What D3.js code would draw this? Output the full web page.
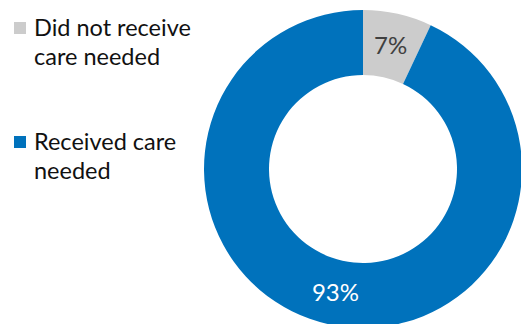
<!DOCTYPE html>
<html lang="en">
	<head>
		<meta charset="utf-8">
		<title>Care needed donut</title>
		<script type="text/javascript" src="https://cdn.jsdelivr.net/npm/d3@7"></script>
		<style type="text/css">
			body { margin: 0; background: #fff; }
			text { font-family: Lato, "Open Sans", sans-serif; }
		</style>
	</head>
	<body>
		<script type="text/javascript">
			// Data
			var categories = ["Did not receive care needed", "Received care needed"];
			var values = [7, 93];
			var colors = ["#cccccc", "#0072bc"];
			var labelColors = ["#404040", "#ffffff"];
			var legendLines = [["Did not receive", "care needed"], ["Received care", "needed"]];

			var w = 521;
			var h = 324;
			var cx = 363, cy = 169;
			var outerR = 159, innerR = 94;

			var svg = d3.select("body")
						.append("svg")
						.attr("width", w)
						.attr("height", h);

			var pie = d3.pie().sort(null).value(function(d) { return d; });
			var arc = d3.arc().innerRadius(innerR).outerRadius(outerR);

			var g = svg.append("g").attr("transform", "translate(" + cx + "," + cy + ")");

			var slices = pie(values);

			g.selectAll("path")
				.data(slices)
				.enter()
				.append("path")
				.attr("d", arc)
				.style("fill", function(d, i) { return colors[i]; });

			g.selectAll("text.lbl")
				.data(slices)
				.enter()
				.append("text")
				.attr("class", "lbl")
				.attr("x", function(d) { return arc.centroid(d)[0]; })
				.attr("y", function(d) { return arc.centroid(d)[1]; })
				.attr("text-anchor", "middle")
				.attr("dy", "0.36em")
				.style("font-size", "24px")
				.style("fill", function(d, i) { return labelColors[i]; })
				.text(function(d) { return d.data + "%"; });

			// Legend
			var legend = svg.selectAll("g.legend")
				.data(categories)
				.enter()
				.append("g")
				.attr("class", "legend")
				.attr("transform", function(d, i) { return "translate(14," + (22 + i * 114) + ")"; });

			legend.append("rect")
				.attr("width", 12)
				.attr("height", 12)
				.style("fill", function(d, i) { return colors[i]; });

			legend.append("text")
				.attr("x", 20)
				.attr("y", 14)
				.style("font-size", "23.5px")
				.style("fill", "#111")
				.selectAll("tspan")
				.data(function(d, i) { return legendLines[i]; })
				.enter()
				.append("tspan")
				.attr("x", 20)
				.attr("dy", function(d, j) { return j === 0 ? 0 : 29; })
				.text(function(d) { return d; });
		</script>
	</body>
</html>
